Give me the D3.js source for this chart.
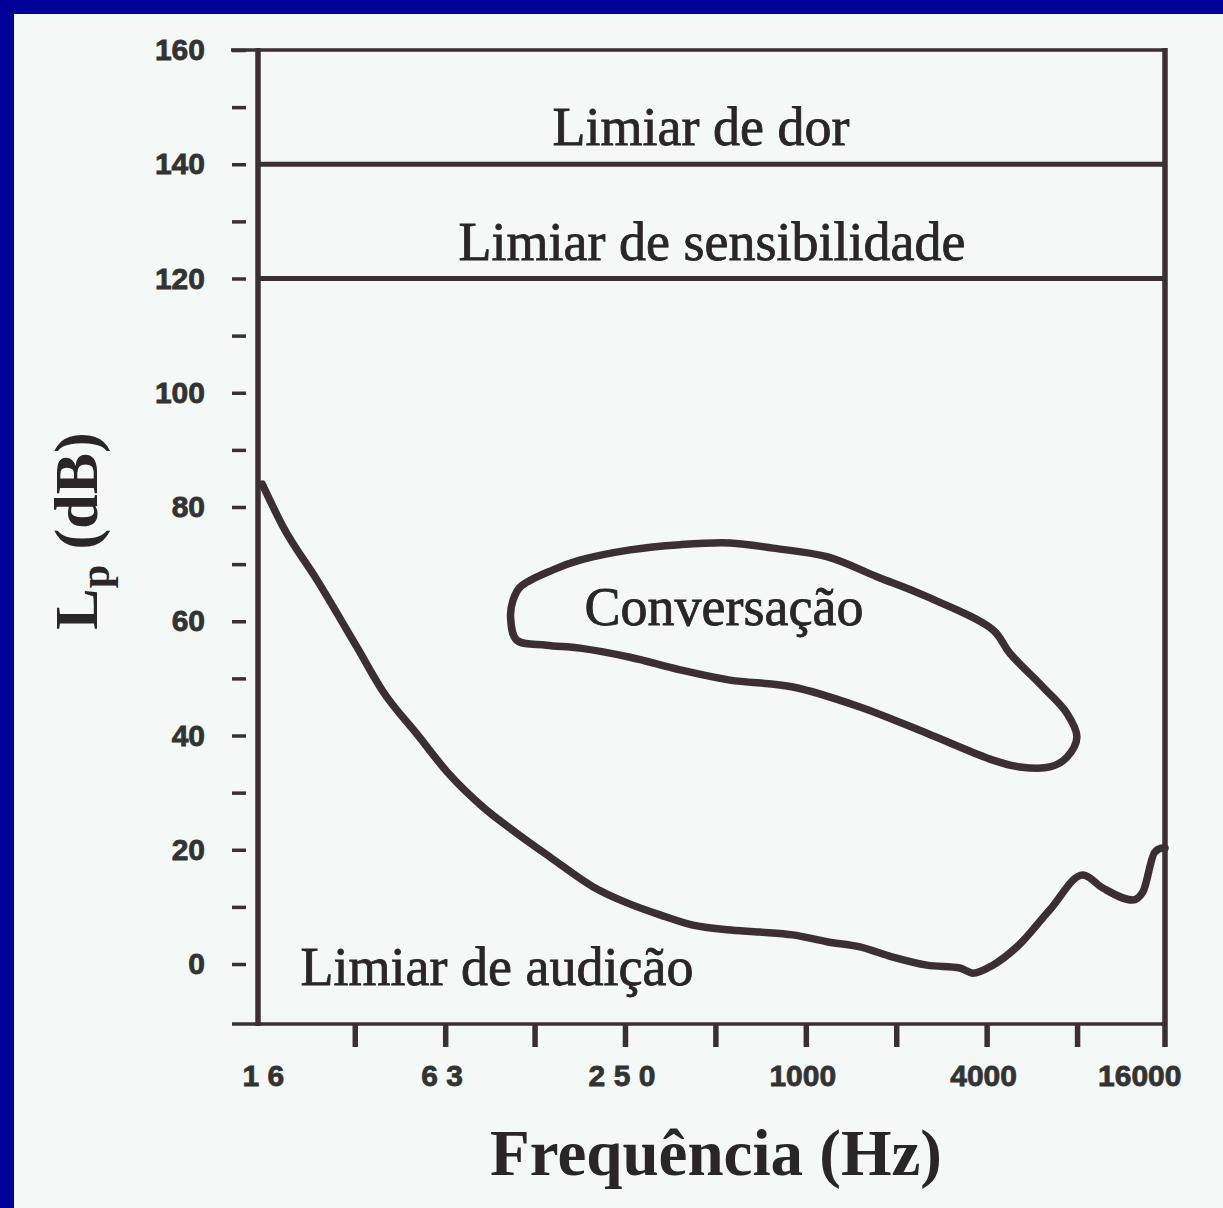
<!DOCTYPE html>
<html>
<head>
<meta charset="utf-8">
<script src="https://cdn.jsdelivr.net/npm/d3@7"></script>
<style>
  html, body { margin: 0; padding: 0; background: #000099; }
  svg { display: block; }
</style>
</head>
<body>
<svg id="chart"></svg>
<script>
// hearing threshold curve (Hz, dB)
const thresholdFreq = [15.5, 18.2, 23.6, 32, 39, 51, 65, 84, 109, 141, 196, 254, 327, 421, 546, 703, 906, 1175, 1514, 1950, 2530, 3258, 3600, 4197, 5045, 6496, 8364, 9750, 12270, 13250, 14520, 15450, 15700]
const thresholdDb = [84, 76.5, 67.2, 55.5, 47.8, 40.1, 33.2, 27.5, 22.9, 18.7, 13.5, 10.7, 8.6, 6.8, 6.0, 5.6, 5.1, 3.9, 3.0, 1.2, -0.2, -0.7, -1.6, -0.2, 3.0, 9.5, 15.6, 13.3, 11.2, 12.6, 19.6, 20.3, 20.3]

// conversation area outline (closed)
const speechFreq = [104, 106, 112, 144, 177, 260, 381, 559, 777, 1175, 1725, 2530, 4197, 4780, 6156, 7400, 7990, 7400, 6496, 5160, 4197, 2530, 1514, 906, 559, 381, 260, 177, 137, 109]
const speechDb = [60.7, 63.7, 66, 69, 70.7, 72.5, 73.4, 73.7, 72.8, 71.3, 67.8, 64.3, 58.5, 54.4, 48.5, 43.9, 39.7, 36.2, 34.5, 34.5, 35.7, 40.4, 45, 48.5, 49.7, 51.5, 53.7, 55.3, 55.8, 56.7]

const levelLines = [140, 120]
const levelLabels = ["Limiar de dor", "Limiar de sensibilidade"]

const yLabelTicks = [0, 20, 40, 60, 80, 100, 120, 140, 160]
const yMinorTicks = [10, 30, 50, 70, 90, 110, 130, 150]
const xTicks = [31.5, 63, 125, 250, 500, 1000, 2000, 4000, 8000]
const xLabelValues = [16, 63, 250, 1000, 4000, 16000]
const xLabels = ["1 6", "6 3", "2 5 0", "1000", "4000", "16000"]

const W = 1223, H = 1208
const ink = "#3b2f33"
const textInk = "#2a2526"

const svg = d3.select("#chart").attr("width", W).attr("height", H)

// paper
svg.append("rect").attr("x", 14).attr("y", 14).attr("width", W - 14).attr("height", H - 14).attr("fill", "#f4f8f7")

const x = d3.scaleLog().base(2).domain([15, 15700]).range([258, 1165])
const y = d3.scaleLinear().domain([-10.5, 160]).range([1024, 50])

// left ticks
const yAxis = svg.append("g")
  .attr("transform", "translate(246,0)")
  .call(d3.axisLeft(y).tickValues(yLabelTicks.concat(yMinorTicks)).tickSize(14).tickPadding(27)
    .tickFormat(d => yLabelTicks.includes(d) ? d : ""))
yAxis.select(".domain").remove()
yAxis.selectAll(".tick line").attr("stroke", ink).attr("stroke-width", 3.5)
yAxis.selectAll(".tick text")
  .attr("fill", "#333").attr("stroke", "#333").attr("stroke-width", 0.8)
  .attr("font-family", "Liberation Sans, Arial, sans-serif")
  .attr("font-weight", "bold").attr("font-size", 30)

// bottom ticks
const xAxis = svg.append("g")
  .attr("transform", "translate(0,1024)")
  .call(d3.axisBottom(x).tickValues(xTicks).tickSize(23).tickFormat(""))
xAxis.select(".domain").remove()
xAxis.selectAll(".tick line").attr("stroke", ink).attr("stroke-width", 5.5)

svg.append("g").selectAll("text")
  .data(xLabelValues)
  .join("text")
  .attr("x", (d, i) => i === xLabelValues.length - 1 ? x(d) + 14 : x(d) - 3)
  .attr("y", 1086)
  .attr("text-anchor", (d, i) => i === xLabelValues.length - 1 ? "end" : "middle")
  .attr("fill", "#333").attr("stroke", "#333").attr("stroke-width", 0.8)
  .attr("font-family", "Liberation Sans, Arial, sans-serif")
  .attr("font-weight", "bold")
  .attr("font-size", 30)
  .text((d, i) => xLabels[i])

// frame
const frame = svg.append("g").attr("stroke", ink).attr("fill", "none")
frame.append("line").attr("x1", 231).attr("x2", x.range()[1]).attr("y1", y(160)).attr("y2", y(160)).attr("stroke-width", 3.5)
frame.append("line").attr("x1", 232).attr("x2", x.range()[1]).attr("y1", y(-10.5)).attr("y2", y(-10.5)).attr("stroke-width", 3.5)
frame.append("line").attr("x1", x.range()[0]).attr("x2", x.range()[0]).attr("y1", y(160) - 2).attr("y2", y(-10.5) + 2).attr("stroke-width", 5.5)
frame.append("line").attr("x1", x.range()[1]).attr("x2", x.range()[1]).attr("y1", y(160) - 2).attr("y2", y(-10.5) + 23).attr("stroke-width", 5.5)

frame.selectAll(".level")
  .data(levelLines)
  .join("line")
  .attr("class", "level")
  .attr("x1", x.range()[0]).attr("x2", x.range()[1])
  .attr("y1", d => y(d)).attr("y2", d => y(d))
  .attr("stroke-width", 5)

// curves
const threshold = thresholdFreq.map((f, i) => [f, thresholdDb[i]])
const speech = speechFreq.map((f, i) => [f, speechDb[i]])

svg.append("path")
  .datum(threshold)
  .attr("fill", "none").attr("stroke", ink).attr("stroke-width", 7.5)
  .attr("stroke-linejoin", "round").attr("stroke-linecap", "round")
  .attr("d", d3.line().x(d => x(d[0])).y(d => y(d[1])).curve(d3.curveMonotoneX))

svg.append("path")
  .datum(speech)
  .attr("fill", "none").attr("stroke", ink).attr("stroke-width", 7.5)
  .attr("stroke-linejoin", "round")
  .attr("d", d3.line().x(d => x(d[0])).y(d => y(d[1])).curve(d3.curveCatmullRomClosed.alpha(0.5)))

// labels
const serif = "Liberation Serif, Times New Roman, serif"
const labels = [
  {t: levelLabels[0], x: 701, y: 145},
  {t: levelLabels[1], x: 712, y: 260},
  {t: "Conversação", x: 724, y: 625},
  {t: "Limiar de audição", x: 497, y: 985}
]
svg.append("g").selectAll("text")
  .data(labels)
  .join("text")
  .attr("x", d => d.x).attr("y", d => d.y)
  .attr("text-anchor", "middle")
  .attr("fill", textInk).attr("stroke", textInk).attr("stroke-width", 0.8)
  .attr("font-family", serif).attr("font-size", 54)
  .text(d => d.t)

svg.append("text")
  .attr("x", 716).attr("y", 1175)
  .attr("text-anchor", "middle")
  .attr("fill", textInk)
  .attr("font-family", serif).attr("font-weight", "bold").attr("font-size", 65)
  .text("Frequência (Hz)")

const yt = svg.append("text")
  .attr("transform", "translate(97,531) rotate(-90)")
  .attr("text-anchor", "middle")
  .attr("fill", textInk)
  .attr("font-family", serif).attr("font-weight", "bold").attr("font-size", 62)
yt.append("tspan").text("L")
yt.append("tspan").attr("font-size", 42).attr("dy", 12).text("p")
yt.append("tspan").attr("dy", -12).text(" (dB)")
</script>
</body>
</html>
